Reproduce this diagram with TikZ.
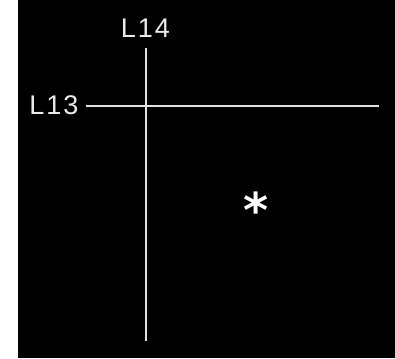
\documentclass[tikz,border=0pt]{standalone}
\usepackage{fontspec}
\setmainfont{Liberation Sans}
\newfontfamily\starfont{DejaVu Sans}
\newcommand{\gp}{\hspace{2pt}}
\begin{document}
\begin{tikzpicture}[x=1pt,y=-1pt,
  lbl/.style={text=white!92!black,inner sep=0pt,font=\fontsize{27}{29}\selectfont},
  wire/.style={draw=white!88!black,line width=1.3pt}]
\useasboundingbox (0,0) rectangle (395,358);
\fill[white] (0,0) rectangle (395,358);
\fill[black] (18,0) rectangle (395,358);
\coordinate (vt) at (146,48);
\coordinate (vb) at (146,341);
\coordinate (hl) at (86,106);
\coordinate (hr) at (379,106);
\node[lbl] (l14) at (145.5,28.5) {L\gp 1\gp 4};
\node[lbl] (l13) at (54,105) {L\gp 1\gp 3};
\draw[wire] (vt) -- (vb);
\draw[wire] (hl) -- (hr);
\node[text=white,inner sep=0pt,font=\starfont\bfseries\fontsize{48}{52}\selectfont] (star) at (256,210) {*};
\end{tikzpicture}
\end{document}
